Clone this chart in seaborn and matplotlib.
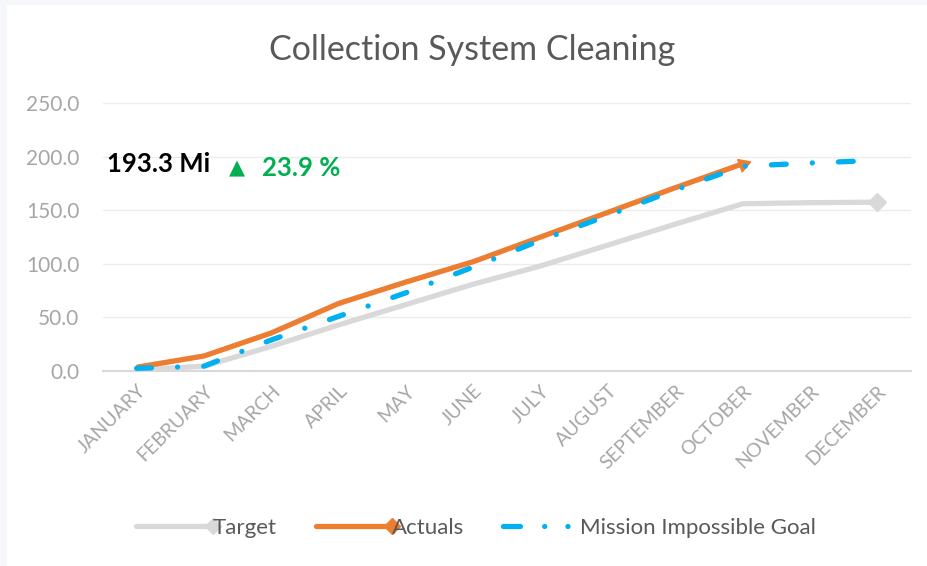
import numpy as np
import pandas as pd
import matplotlib
matplotlib.use("Agg")
import matplotlib.pyplot as plt
import seaborn as sns
from matplotlib.lines import Line2D
from matplotlib.patches import Rectangle
from matplotlib.legend_handler import HandlerLine2D

# Datos
meses = ['JANUARY', 'FEBRUARY', 'MARCH', 'APRIL', 'MAY', 'JUNE', 'JULY',
         'AUGUST', 'SEPTEMBER', 'OCTOBER', 'NOVEMBER', 'DECEMBER']
target = [1.0, 4.5, 23.0, 43.0, 62.0, 81.0, 98.0, 117.5, 137.0, 156.0, 157.0, 157.5]
actuals = [3.5, 14.0, 35.5, 63.0, 83.0, 102.0, 125.0, 148.0, 171.0, 193.3, np.nan, np.nan]
goal = [2.5, 4.5, 29.0, 51.0, 73.0, 97.0, 122.0, 145.0, 169.0, 191.0, 194.0, 196.5]
series = ['Target', 'Actuals', 'Mission Impossible Goal']
colores = {'Target': '#d9d9d9', 'Actuals': '#ed7d31', 'Mission Impossible Goal': '#00b0f0'}
ticks_y = [0, 50, 100, 150, 200, 250]

texto_total = '193.3 Mi'
texto_pct = '23.9 %'

GROSOR = 3.8
PATRON = (2.8, 4.95, 0.01, 4.95)


class HandlerFinal(HandlerLine2D):
    # pone el marcador al final de la linea en la leyenda
    def create_artists(self, legend, orig_handle, xdescent, ydescent, width, height, fontsize, trans):
        artistas = super().create_artists(legend, orig_handle, xdescent, ydescent, width, height, fontsize, trans)
        for a in artistas:
            if a.get_marker() not in (None, 'None', ''):
                a.set_markevery([len(a.get_xdata()) - 1])
        return artistas


def main():
    sns.set_theme(style='white')
    plt.rcParams['font.family'] = ['Lato', 'DejaVu Sans']

    df = pd.DataFrame({'Mes': meses * 3,
                       'Valor': target + actuals + goal,
                       'Serie': np.repeat(series, len(meses))})
    df = df.dropna()

    fig = plt.figure(figsize=(9.28, 5.66), dpi=100)
    fig.patch.set_facecolor('#f6f7fb')
    fig.patches.append(Rectangle((7 / 928, 0), 1, 1 - 5 / 566, transform=fig.transFigure,
                                 facecolor='white', edgecolor='none', zorder=-10))
    ax = fig.add_axes([103 / 928, 1 - 371 / 566, (911 - 103) / 928, (371 - 103) / 566])
    ax.set_facecolor('none')

    sns.lineplot(data=df, x='Mes', y='Valor', hue='Serie', style='Serie', hue_order=series,
                 style_order=series, palette=colores,
                 dashes={'Target': '', 'Actuals': '', 'Mission Impossible Goal': PATRON},
                 linewidth=GROSOR, sort=False, legend=False, ax=ax,
                 dash_capstyle='round', solid_capstyle='butt')
    # las lineas en el orden de Excel: target abajo, goal arriba
    for i, linea in enumerate(ax.get_lines()):
        linea.set_zorder(2 + i)

    # marcadores del final
    ax.plot(len(target) - 1, target[-1], marker='D', markersize=9, color=colores['Target'], zorder=2)
    n_act = int(np.sum(~np.isnan(actuals)))
    ax.plot(n_act - 1, actuals[n_act - 1], marker=(3, 0, -70), markersize=11,
            color=colores['Actuals'], zorder=3)

    ax.set_xlim(-0.5, len(meses) - 0.5)
    ax.set_ylim(0, 250)
    ax.set_yticks(ticks_y)
    ax.set_yticklabels([f'{v:.1f}' for v in ticks_y])
    ax.set_xticks(range(len(meses)))
    ax.set_xticklabels(meses, rotation=45, ha='right', rotation_mode='anchor')
    ax.tick_params(axis='y', colors='#a6a6a6', labelsize=15, length=0, pad=17)
    ax.tick_params(axis='x', colors='#a6a6a6', labelsize=14, length=0, pad=8)
    ax.set_xlabel('')
    ax.set_ylabel('')
    ax.grid(axis='y', color='#ececec', linewidth=1)
    for lado in ['top', 'right', 'left']:
        ax.spines[lado].set_visible(False)
    ax.spines['bottom'].set_color('#d9d9d9')
    ax.spines['bottom'].set_linewidth(1.5)

    fig.suptitle('Collection System Cleaning', x=472 / 928, y=1 - 50 / 566, va='center',
                 fontsize=24.5, color='#595959')

    # textos del resumen
    fig.text(107 / 928, 1 - 164 / 566, texto_total, fontsize=18.5, fontweight='bold',
             color='black', va='center', ha='left')
    fig.text(237 / 928, 1 - 168 / 566, '\u25b2', fontsize=15, color='#00b050',
             va='center', ha='center', family=['DejaVu Sans'])
    fig.text(262 / 928, 1 - 168 / 566, texto_pct, fontsize=18.5, fontweight='bold',
             color='#00b050', va='center', ha='left')

    handles = [
        Line2D([], [], color=colores['Target'], linewidth=GROSOR, marker='D', markersize=8),
        Line2D([], [], color=colores['Actuals'], linewidth=GROSOR, marker='D', markersize=8),
        Line2D([], [], color=colores['Mission Impossible Goal'], linewidth=GROSOR,
               dashes=(3.2, 4.6, 0.01, 4.4, 0.01, 10), dash_capstyle='round'),
    ]
    fig.legend(handles, series, loc='center', bbox_to_anchor=(476 / 928, 1 - 528 / 566), ncol=3,
               frameon=False, fontsize=16, labelcolor='#595959', handlelength=3.45,
               handletextpad=0.0, columnspacing=1.75, numpoints=1,
               handler_map={Line2D: HandlerFinal()})

    fig.savefig('out.png', dpi=100, facecolor=fig.get_facecolor())
    plt.close(fig)


if __name__ == '__main__':
    main()
